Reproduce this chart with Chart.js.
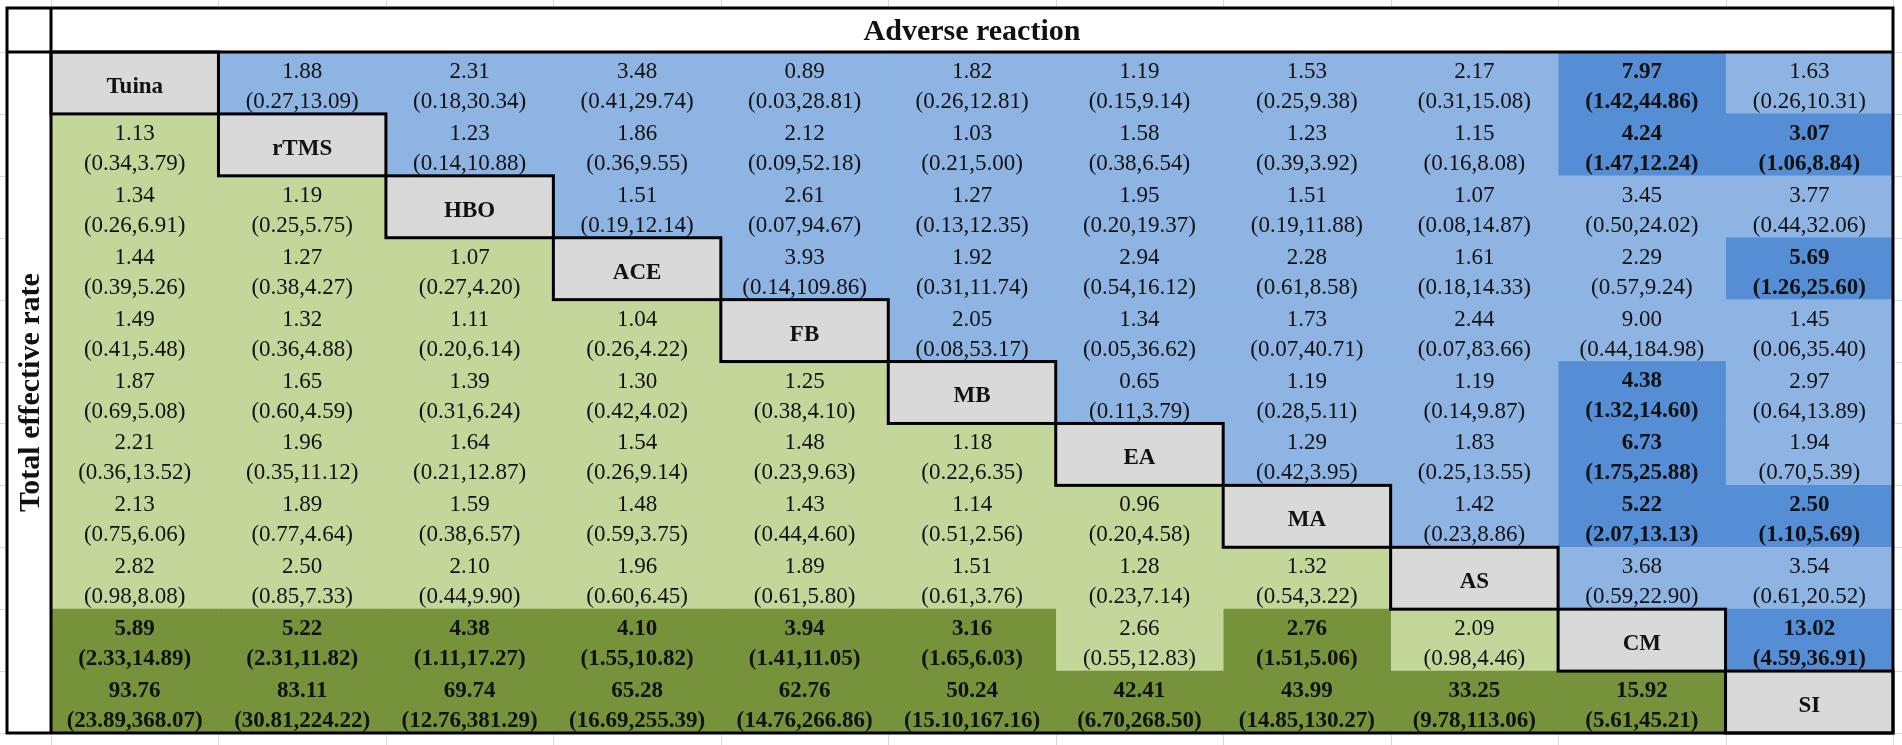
<!DOCTYPE html>
<html>
<head>
<meta charset="utf-8">
<script src="https://cdn.jsdelivr.net/npm/chart.js@4.4.1/dist/chart.umd.min.js"></script>
<style>
  html, body { margin: 0; padding: 0; background: #fff; }
  #wrap { width: 1902px; height: 745px; }
</style>
</head>
<body>
<div id="wrap"><canvas id="league" width="1902" height="745"></canvas></div>
<script>
// treatments on the diagonal
const treatments = ["Tuina", "rTMS", "HBO", "ACE", "FB", "MB", "EA", "MA", "AS", "CM", "SI"];

// Adverse reaction (upper triangle), row i holds columns i+1 .. 10
const adverseOR = [
  [1.88, 2.31, 3.48, 0.89, 1.82, 1.19, 1.53, 2.17, 7.97, 1.63],
  [1.23, 1.86, 2.12, 1.03, 1.58, 1.23, 1.15, 4.24, 3.07],
  [1.51, 2.61, 1.27, 1.95, 1.51, 1.07, 3.45, 3.77],
  [3.93, 1.92, 2.94, 2.28, 1.61, 2.29, 5.69],
  [2.05, 1.34, 1.73, 2.44, 9.00, 1.45],
  [0.65, 1.19, 1.19, 4.38, 2.97],
  [1.29, 1.83, 6.73, 1.94],
  [1.42, 5.22, 2.50],
  [3.68, 3.54],
  [13.02]
];
const adverseLow = [
  [0.27, 0.18, 0.41, 0.03, 0.26, 0.15, 0.25, 0.31, 1.42, 0.26],
  [0.14, 0.36, 0.09, 0.21, 0.38, 0.39, 0.16, 1.47, 1.06],
  [0.19, 0.07, 0.13, 0.20, 0.19, 0.08, 0.50, 0.44],
  [0.14, 0.31, 0.54, 0.61, 0.18, 0.57, 1.26],
  [0.08, 0.05, 0.07, 0.07, 0.44, 0.06],
  [0.11, 0.28, 0.14, 1.32, 0.64],
  [0.42, 0.25, 1.75, 0.70],
  [0.23, 2.07, 1.10],
  [0.59, 0.61],
  [4.59]
];
const adverseHigh = [
  [13.09, 30.34, 29.74, 28.81, 12.81, 9.14, 9.38, 15.08, 44.86, 10.31],
  [10.88, 9.55, 52.18, 5.00, 6.54, 3.92, 8.08, 12.24, 8.84],
  [12.14, 94.67, 12.35, 19.37, 11.88, 14.87, 24.02, 32.06],
  [109.86, 11.74, 16.12, 8.58, 14.33, 9.24, 25.60],
  [53.17, 36.62, 40.71, 83.66, 184.98, 35.40],
  [3.79, 5.11, 9.87, 14.60, 13.89],
  [3.95, 13.55, 25.88, 5.39],
  [8.86, 13.13, 5.69],
  [22.90, 20.52],
  [36.91]
];

// Total effective rate (lower triangle), row i (from rTMS) holds columns 0 .. i-1
const effectOR = [
  [1.13],
  [1.34, 1.19],
  [1.44, 1.27, 1.07],
  [1.49, 1.32, 1.11, 1.04],
  [1.87, 1.65, 1.39, 1.30, 1.25],
  [2.21, 1.96, 1.64, 1.54, 1.48, 1.18],
  [2.13, 1.89, 1.59, 1.48, 1.43, 1.14, 0.96],
  [2.82, 2.50, 2.10, 1.96, 1.89, 1.51, 1.28, 1.32],
  [5.89, 5.22, 4.38, 4.10, 3.94, 3.16, 2.66, 2.76, 2.09],
  [93.76, 83.11, 69.74, 65.28, 62.76, 50.24, 42.41, 43.99, 33.25, 15.92]
];
const effectLow = [
  [0.34],
  [0.26, 0.25],
  [0.39, 0.38, 0.27],
  [0.41, 0.36, 0.20, 0.26],
  [0.69, 0.60, 0.31, 0.42, 0.38],
  [0.36, 0.35, 0.21, 0.26, 0.23, 0.22],
  [0.75, 0.77, 0.38, 0.59, 0.44, 0.51, 0.20],
  [0.98, 0.85, 0.44, 0.60, 0.61, 0.61, 0.23, 0.54],
  [2.33, 2.31, 1.11, 1.55, 1.41, 1.65, 0.55, 1.51, 0.98],
  [23.89, 30.81, 12.76, 16.69, 14.76, 15.10, 6.70, 14.85, 9.78, 5.61]
];
const effectHigh = [
  [3.79],
  [6.91, 5.75],
  [5.26, 4.27, 4.20],
  [5.48, 4.88, 6.14, 4.22],
  [5.08, 4.59, 6.24, 4.02, 4.10],
  [13.52, 11.12, 12.87, 9.14, 9.63, 6.35],
  [6.06, 4.64, 6.57, 3.75, 4.60, 2.56, 4.58],
  [8.08, 7.33, 9.90, 6.45, 5.80, 3.76, 7.14, 3.22],
  [14.89, 11.82, 17.27, 10.82, 11.05, 6.03, 12.83, 5.06, 4.46],
  [368.07, 224.22, 381.29, 255.39, 266.86, 167.16, 268.50, 130.27, 113.06, 45.21]
];

const n = treatments.length;
const colors = {
  diag: "#D9D9D9",
  blue: "#8DB4E2",
  blueSig: "#558ED5",
  green: "#C4D79B",
  greenSig: "#76933C"
};

// returns {est, lo, hi} for a cell, or null on the diagonal
function cellData(i, j) {
  if (j > i) {
    const k = j - i - 1;
    return { est: adverseOR[i][k], lo: adverseLow[i][k], hi: adverseHigh[i][k], upper: true };
  }
  if (j < i) {
    return { est: effectOR[i - 1][j], lo: effectLow[i - 1][j], hi: effectHigh[i - 1][j], upper: false };
  }
  return null;
}

function cellColor(i, j) {
  const c = cellData(i, j);
  if (!c) return colors.diag;
  const sig = c.lo > 1;
  if (c.upper) return sig ? colors.blueSig : colors.blue;
  return sig ? colors.greenSig : colors.green;
}

// one dataset per column, each bar spans [j, j+1] on the x axis
const datasets = [];
for (let j = 0; j < n; j++) {
  datasets.push({
    label: treatments[j],
    data: treatments.map(() => [j, j + 1]),
    backgroundColor: (ctx) => cellColor(ctx.dataIndex, j),
    borderWidth: 0,
    barPercentage: 1,
    categoryPercentage: 1,
    grouped: false
  });
}

const serif = "'Liberation Serif', 'Times New Roman', serif";

const tablePlugin = {
  id: "tablePlugin",
  beforeDraw(chart) {
    const ctx = chart.ctx;
    const a = chart.chartArea;
    const xs = chart.scales.x;
    const ys = chart.scales.y;
    const rowH = ys.getPixelForValue(1) - ys.getPixelForValue(0);
    ctx.save();
    ctx.fillStyle = "#fff";
    ctx.fillRect(0, 0, chart.width, chart.height);
    // faint spreadsheet gridlines outside the table
    ctx.strokeStyle = "#DADADA";
    ctx.lineWidth = 1;
    for (let j = 0; j <= n; j++) {
      const x = Math.round(xs.getPixelForValue(j)) + 0.5;
      ctx.beginPath();
      ctx.moveTo(x, 0); ctx.lineTo(x, 8);
      ctx.moveTo(x, a.bottom); ctx.lineTo(x, chart.height);
      ctx.stroke();
    }
    for (let i = 0; i <= n; i++) {
      const y = Math.round(ys.getPixelForValue(i) - rowH / 2) + 0.5;
      ctx.beginPath();
      ctx.moveTo(0, y); ctx.lineTo(7, y);
      ctx.moveTo(a.right, y); ctx.lineTo(chart.width, y);
      ctx.stroke();
    }
    ctx.restore();
  },
  afterDatasetsDraw(chart) {
    const ctx = chart.ctx;
    const a = chart.chartArea;
    const xs = chart.scales.x;
    const ys = chart.scales.y;
    const rowH = ys.getPixelForValue(1) - ys.getPixelForValue(0);
    ctx.save();
    ctx.textAlign = "center";
    ctx.textBaseline = "middle";
    ctx.fillStyle = "#111";
    for (let i = 0; i < n; i++) {
      const cy = ys.getPixelForValue(i);
      for (let j = 0; j < n; j++) {
        const cx = (xs.getPixelForValue(j) + xs.getPixelForValue(j + 1)) / 2;
        const c = cellData(i, j);
        if (!c) {
          ctx.font = "bold 23px " + serif;
          ctx.fillText(treatments[i], cx, cy + 4);
          continue;
        }
        const bold = c.lo > 1 ? "bold " : "";
        ctx.font = bold + "23px " + serif;
        ctx.fillText(c.est.toFixed(2), cx, cy - 11);
        ctx.fillText("(" + c.lo.toFixed(2) + "," + c.hi.toFixed(2) + ")", cx, cy + 19);
      }
    }

    // frame, header and side label
    ctx.strokeStyle = "#000";
    ctx.lineWidth = 3;
    ctx.strokeRect(7, 8, a.right - 7, a.bottom - 8);
    ctx.beginPath();
    ctx.moveTo(7, a.top); ctx.lineTo(a.right, a.top);
    ctx.moveTo(a.left, 8); ctx.lineTo(a.left, a.bottom);
    ctx.stroke();

    // box round every diagonal cell
    for (let i = 0; i < n; i++) {
      const x0 = xs.getPixelForValue(i);
      const x1 = xs.getPixelForValue(i + 1);
      const y0 = ys.getPixelForValue(i) - rowH / 2;
      ctx.strokeRect(x0, y0, x1 - x0, rowH);
    }

    ctx.fillStyle = "#111";
    ctx.font = "bold 30px " + serif;
    ctx.fillText("Adverse reaction", (a.left + a.right) / 2, (8 + a.top) / 2 + 2);
    ctx.translate(31, (a.top + a.bottom) / 2);
    ctx.rotate(-Math.PI / 2);
    ctx.fillText("Total effective rate", 0, 0);
    ctx.restore();
  }
};

new Chart(document.getElementById("league"), {
  type: "bar",
  data: { labels: treatments, datasets: datasets },
  options: {
    indexAxis: "y",
    responsive: false,
    animation: false,
    devicePixelRatio: 1,
    layout: { padding: { left: 51, top: 52, right: 9, bottom: 12 } },
    scales: {
      x: { type: "linear", min: 0, max: n, display: false },
      y: { type: "category", display: false }
    },
    plugins: {
      legend: { display: false },
      tooltip: { enabled: false }
    }
  },
  plugins: [tablePlugin]
});
</script>
</body>
</html>
